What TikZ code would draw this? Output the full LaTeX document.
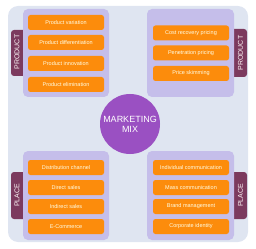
\documentclass[tikz,border=0pt]{standalone}
\usepackage{fontspec}
\setmainfont{Liberation Sans}
\definecolor{bgc}{HTML}{DFE5F1}
\definecolor{lav}{HTML}{C5BEEA}
\definecolor{org}{HTML}{FC8C0C}
\definecolor{mar}{HTML}{7C3A5E}
\definecolor{pur}{HTML}{9A50C2}
\tikzset{
  panel/.style={fill=lav,draw=none,rounded corners=5pt},
  item/.style={fill=org,draw=none,rounded corners=2.5pt,text=white!90!yellow,font=\fontsize{5.5}{6}\selectfont},
  tab/.style={fill=mar,draw=none,rounded corners=3pt},
  tabtext/.style={text=white!90!pink,font=\fontsize{7}{8}\selectfont,rotate=90},
}
\begin{document}
\begin{tikzpicture}[x=1pt,y=-1pt]
\useasboundingbox (0,0) rectangle (256,248);
\fill[bgc,rounded corners=10pt] (8,6) rectangle (248,242);
% tabs
\fill[tab] (11,30) rectangle (30,76);
\fill[tab] (227,29) rectangle (247,77);
\fill[tab] (11,172) rectangle (30,219);
\fill[tab] (227,172) rectangle (247,219);
\node[tabtext] (t1) at (17,52) {PRODUCT};
\node[tabtext] (t2) at (240.5,53) {PRODUCT};
\node[tabtext] (t3) at (17,195.5) {PLACE};
\node[tabtext] (t4) at (240.5,195.5) {PLACE};
% panels
\fill[panel] (23,9) rectangle (109,97);
\fill[panel] (147,9) rectangle (234,97);
\fill[panel] (23,151) rectangle (109,240);
\fill[panel] (147,151) rectangle (234,240);
% items
\def\itm#1#2#3#4{\node[item,minimum width=76pt,minimum height=15pt,inner sep=0pt] (#1) at (#2,#3) {#4};}
\itm{a1}{66}{22.5}{Product variation}
\itm{a2}{66}{42.5}{Product differentiation}
\itm{a3}{66}{63.5}{Product innovation}
\itm{a4}{66}{84.5}{Product elimination}
\itm{b1}{191}{33}{Cost recovery pricing}
\itm{b2}{191}{53}{Penetration pricing}
\itm{b3}{191}{73.5}{Price skimming}
\itm{c1}{66}{167.5}{Distribution channel}
\itm{c2}{66}{187.5}{Direct sales}
\itm{c3}{66}{206.5}{Indirect sales}
\itm{c4}{66}{226.5}{E-Commerce}
\itm{d1}{191}{167.5}{Individual communication}
\itm{d2}{191}{187.5}{Mass communication}
\itm{d3}{191}{206.5}{Brand management}
\itm{d4}{191}{226.5}{Corporate identity}
% center
\node[circle,fill=pur,minimum size=60pt,inner sep=0pt,text=white,align=center,font=\fontsize{9}{10}\selectfont] (mix) at (130,124) {MARKETING\\MIX};
\end{tikzpicture}
\end{document}
